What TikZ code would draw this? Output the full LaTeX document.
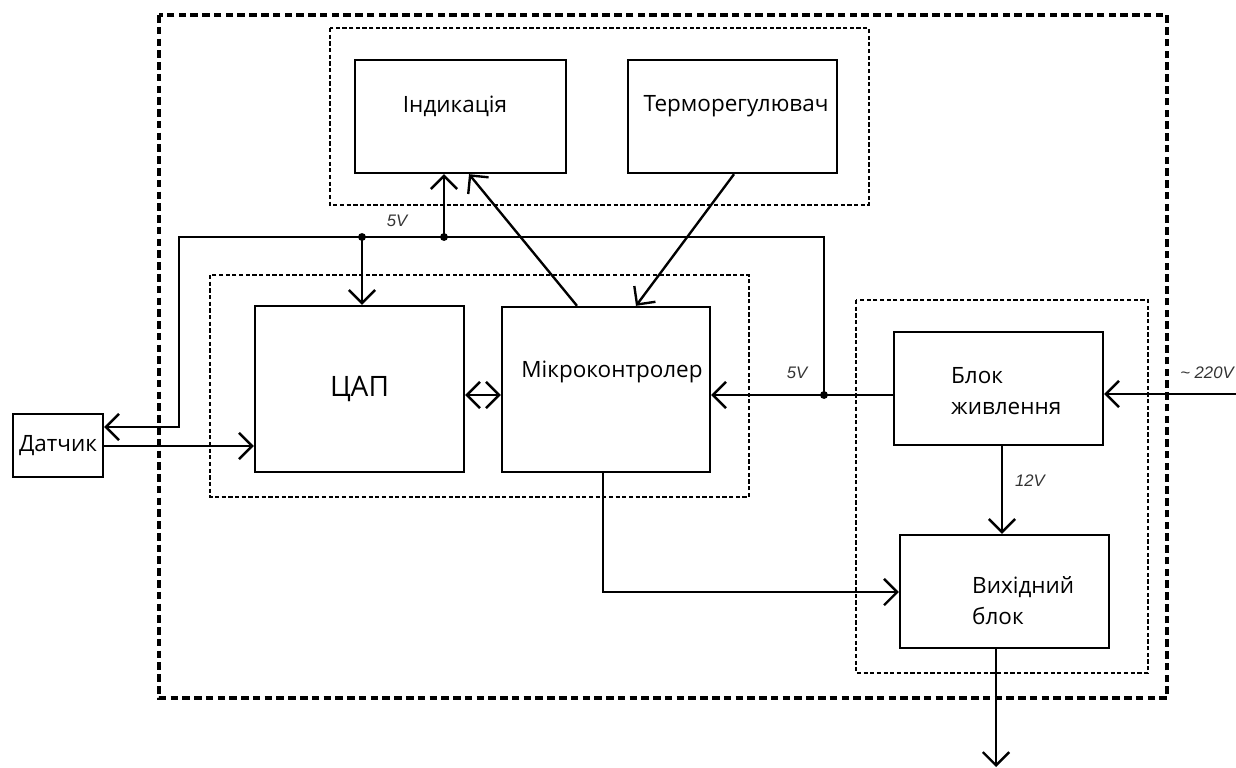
\documentclass[tikz,border=0pt]{standalone}
\usepackage{fontspec}
\setmainfont{Open Sans}
\newfontfamily\voltfont{Liberation Sans}
\usetikzlibrary{arrows.meta}

\begin{document}
\begin{tikzpicture}[x=0.02cm,y=-0.02cm,line width=1.35pt,
    >={Straight Barb[length=7.5pt,width=15pt]},
    box/.style={draw,inner sep=0pt},
    txt/.style={font=\fontsize{12.8}{18}\selectfont,inner sep=0pt},
    volt/.style={font=\voltfont\itshape\fontsize{9.5}{10}\selectfont,text=black!80,inner sep=0pt},
    frame/.style={dash pattern=on 4.3pt off 2.4pt,line width=2pt},
    group/.style={dash pattern=on 2.4pt off 1.4pt,line width=1.2pt},
    junct/.style={circle,fill,inner sep=0pt,minimum size=4.5pt}]

  \useasboundingbox (0,0) rectangle (1236,767);

  % dashed groups
  \draw[frame] (159,15) rectangle (1167,698);
  \draw[group] (330,28) rectangle (869,205);
  \draw[group] (210,275) rectangle (749,497);
  \draw[group] (856,300) rectangle (1148,673);

  % blocks
  \begin{scope}[every node/.style={box}]
    \node[minimum width=4.22cm,minimum height=2.26cm] (ind)  at (460.5,116.5) {};
    \node[minimum width=4.18cm,minimum height=2.26cm] (term) at (732.5,116.5) {};
    \node[minimum width=4.18cm,minimum height=3.32cm,font=\fontsize{16}{18}\selectfont] (dac) at (359.5,389) {ЦАП};
    \node[minimum width=4.16cm,minimum height=3.30cm] (mcu)  at (606,389.5) {};
    \node[minimum width=4.18cm,minimum height=2.26cm] (psu)  at (998.5,388.5) {};
    \node[minimum width=4.18cm,minimum height=2.26cm] (out)  at (1004.5,591.5) {};
    \node[minimum width=1.80cm,minimum height=1.26cm,font=\fontsize{12.8}{14}\selectfont] (sens) at (58,445.5) {Датчик};
  \end{scope}

  % block texts
  \node[txt] (ind-t)  at (455,106) {Індикація};
  \node[txt] (term-t) at (736,106) {Терморегулювач};
  \node[txt] (mcu-t)  at (612,372) {Мікроконтролер};
  \node[txt,align=left,anchor=west] (psu-t) at (950,391) {Блок\\живлення};
  \node[txt,align=left,anchor=west] (out-t) at (971,600.5) {Вихідний\\блок};

  % 5V bus
  \coordinate (jr) at (824,395);
  \coordinate (ja) at (362,237);
  \coordinate (jb) at (444,237);
  \node[junct] at (jr) {};
  \node[junct] at (ja) {};
  \node[junct] at (jb) {};
  \draw[->] (psu.west |- jr) -- (mcu.east |- jr);
  \draw[->] (jr) |- (179,237) |- (sens.east |- 0,427);
  \draw[->] (ja) -- (dac.north -| ja);
  \draw[->] (jb) -- (ind.south -| jb);

  % signals
  \draw[->] (mcu.north -| 577,0) -- (ind.south -| 469,0);
  \draw[->] (term.south -| 734,0) -- (mcu.north -| 636,0);
  \draw[<->] (dac.east |- 0,395) -- (mcu.west |- 0,395);
  \draw[->] (sens.east |- 0,446) -- (dac.west |- 0,446);
  \draw[->] (mcu.south -| 603,0) |- (out.west |- 0,592);
  \draw[->] (psu.south -| 1002,0) -- (out.north -| 1002,0);

  % mains in, load out
  \coordinate (ac) at (1236,394);
  \coordinate (load) at (996,767);
  \draw[->] (ac) -- (psu.east |- ac);
  \draw[->] (out.south -| load) -- (load);

  % voltages
  \node[volt] (v5a)  at (397,221) {5V};
  \node[volt] (v5b)  at (797,373) {5V};
  \node[volt] (v12)  at (1030,481) {12V};
  \node[volt] (v220) at (1207,373) {\textasciitilde{} 220V};

\end{tikzpicture}
\end{document}
